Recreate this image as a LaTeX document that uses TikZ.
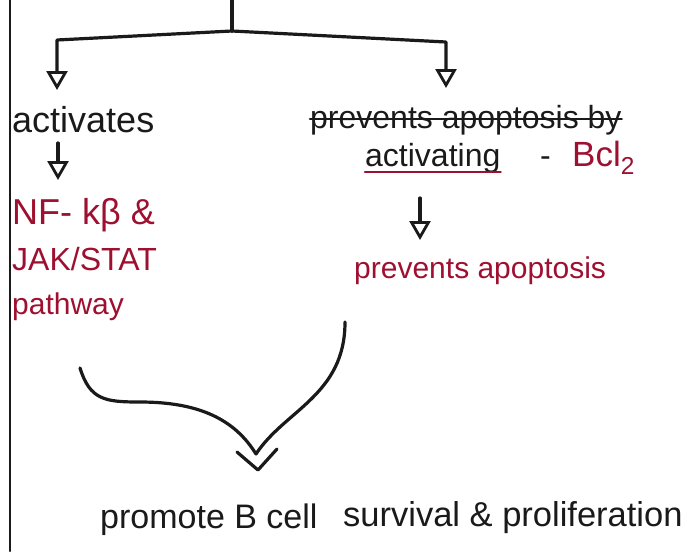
\documentclass[tikz,border=0pt]{standalone}
\usepackage{fontspec}
\setmainfont{Liberation Sans}
\usetikzlibrary{arrows.meta}
\definecolor{ink}{HTML}{1A1A1A}
\definecolor{redink}{HTML}{9E1030}
\begin{document}
\begin{tikzpicture}[x=1pt,y=-1pt,
  txt/.style={anchor=base west, inner sep=0pt, font=\fontsize{30}{34}\selectfont},
  blk/.style={txt, text=ink},
  redtxt/.style={txt, text=redink},
  conn/.style={draw=ink, line width=3.2pt, line cap=round, line join=round},
  tip/.style={-{Triangle[open,length=19pt,width=21pt,line width=2.8pt]}}
]
\useasboundingbox (0,0) rectangle (700,551);
\clip (0,0) rectangle (700,551);
\fill[white] (0,0) rectangle (700,551);
% page border line
\coordinate (bt) at (10,0);
\coordinate (bb) at (10,551);
\draw[conn, line width=2.4pt] (bt) -- (bb);
% top split
\coordinate (trunk) at (232,0);
\coordinate (jn) at (232,31);
\coordinate (lc) at (57,40);
\coordinate (rc) at (446,42);
\coordinate (la) at (57,90);
\coordinate (ra) at (446,88);
\draw[conn] (trunk) -- (jn);
\draw[conn, tip] (jn) -- (lc) -- (la);
\draw[conn, tip] (jn) -- (rc) -- (ra);
% left column
\node[blk, font=\fontsize{36}{40}\selectfont] (act) at (12,132) {activates};
\node[redtxt, font=\fontsize{36}{40}\selectfont] (nfkb) at (12,224) {NF- kβ \&};
\node[redtxt, font=\fontsize{32}{36}\selectfont] (jak) at (12,270) {JAK/STAT};
\node[redtxt, font=\fontsize{30}{34}\selectfont] (path) at (12,314) {pathway};
\coordinate (a1s) at (58,143);
\coordinate (a1e) at (58,180);
\draw[conn, tip] (a1s) -- (a1e);
% right column
\node[blk, font=\fontsize{32}{36}\selectfont] (prev1) at (310,128) {prevents apoptosis by};
\draw[conn, line width=2.6pt] ([yshift=9pt]prev1.base west) -- ([yshift=9pt]prev1.base east);
\node[blk, font=\fontsize{32}{36}\selectfont] (actv) at (365,166) {activating};
\node[blk, font=\fontsize{32}{36}\selectfont] (dash) at (540,166) {-};
\node[redtxt, font=\fontsize{35}{38}\selectfont] (bcl) at (572,166) {Bcl\textsubscript{2}};
\draw[draw=redink, line width=2.6pt, line cap=round] ([yshift=-6pt]actv.base west) -- ([yshift=-6pt]actv.base east);
\coordinate (a2s) at (420,198);
\coordinate (a2e) at (420,240);
\draw[conn, tip] (a2s) -- (a2e);
\node[redtxt] (prev2) at (354,278) {prevents apoptosis};
% merging arrows
\coordinate (l0) at (80,368);
\coordinate (r0) at (345,322);
\coordinate (m) at (256,454);
\coordinate (vt) at (258,470);
\draw[conn] (l0) .. controls (90,400) and (105,402) .. (140,402) .. controls (200,402) and (235,420) .. (m);
\draw[conn] (r0) .. controls (345,395) and (285,410) .. (m);
\draw[conn] (237,452) -- (vt) -- (277,449);
% bottom line
\node[blk, font=\fontsize{34}{38}\selectfont] (out) at (100,528) {promote B cell};
\node[blk, font=\fontsize{34.5}{38}\selectfont] (out2) at (343,526) {survival \& proliferation};
\end{tikzpicture}
\end{document}
